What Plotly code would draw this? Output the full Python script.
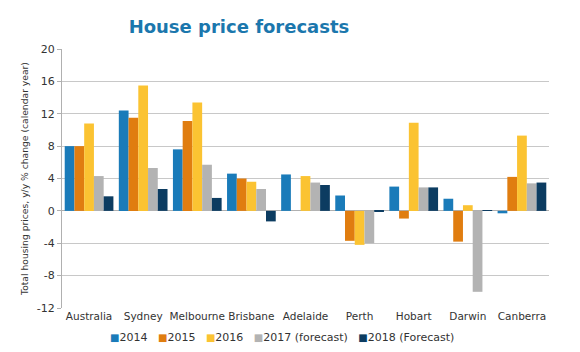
import plotly.graph_objects as go

cities = ["Australia", "Sydney", "Melbourne", "Brisbane", "Adelaide", "Perth", "Hobart", "Darwin", "Canberra"]
v2014 = [8.0, 12.4, 7.6, 4.6, 4.5, 1.9, 3.0, 1.5, -0.3]
v2015 = [8.0, 11.5, 11.1, 4.0, 0.0, -3.7, -0.95, -3.8, 4.2]
v2016 = [10.8, 15.5, 13.4, 3.6, 4.3, -4.2, 10.9, 0.7, 9.3]
v2017 = [4.3, 5.3, 5.7, 2.7, 3.5, -4.0, 2.9, -10.0, 3.4]
v2018 = [1.8, 2.7, 1.6, -1.3, 3.2, -0.1, 2.9, 0.1, 3.5]
series_names = ["2014", "2015", "2016", "2017 (forecast)", "2018 (Forecast)"]
colors = ["#1a7bb9", "#e07d10", "#fbc332", "#b3b3b3", "#0c3c61"]
y_ticks = [-12, -8, -4, 0, 4, 8, 12, 16, 20]
y_min, y_max = -12, 20

fig = go.Figure()
for name, vals, col in zip(series_names, [v2014, v2015, v2016, v2017, v2018], colors):
    fig.add_trace(go.Bar(x=cities, y=vals, name=name, showlegend=False,
                         marker=dict(color=col, line=dict(width=0))))

# legend drawn as text, one coloured square per series
legend_text = "&nbsp;&nbsp;&nbsp;".join(
    f"<span style='color:{c};font-size:10px'>■</span>{n}" for n, c in zip(series_names, colors)
)
fig.add_annotation(text=legend_text, xref="paper", yref="paper", x=0.452, y=-0.112,
                   xanchor="center", yanchor="middle", showarrow=False,
                   font=dict(size=11, color="#333333"))

font_family = "DejaVu Sans, Verdana, sans-serif"
fig.update_layout(
    width=580, height=352,
    margin=dict(l=62, r=31, t=49, b=44),
    paper_bgcolor="white", plot_bgcolor="white",
    barmode="group", bargap=0.1, bargroupgap=0,
    showlegend=False,
    font=dict(family=font_family, size=11, color="#333333"),
    title=dict(text="<b>House price forecasts</b>", x=0.412, xanchor="center", y=0.925, yanchor="middle",
               font=dict(family=font_family, size=18, color="#1b77ad")),
    xaxis=dict(showgrid=False, showline=False, ticks="", tickangle=0,
               type="category", categoryorder="array", categoryarray=cities,
               range=[-0.5, len(cities) - 0.5],
               tickfont=dict(size=10.5, color="#333333")),
    # category boundary tick marks sitting on the zero line
    xaxis2=dict(overlaying="x", anchor="free", position=(0 - y_min) / (y_max - y_min),
                type="category", categoryorder="array", categoryarray=cities,
                range=[-0.5, len(cities) - 0.5], tickson="boundaries",
                ticks="outside", ticklen=3, tickcolor="#b0b0b0",
                showticklabels=False, showgrid=False, showline=False, zeroline=False),
    yaxis=dict(range=[y_min, y_max], tickvals=y_ticks, ticktext=[str(t) for t in y_ticks],
               showgrid=True, gridcolor="#c8c8c8", gridwidth=1,
               zeroline=True, zerolinecolor="#b0b0b0", zerolinewidth=1,
               showline=True, linecolor="#b0b0b0", linewidth=1,
               ticks="outside", ticklen=4, tickcolor="#b0b0b0",
               tickfont=dict(size=11, color="#333333"),
               title=dict(text="Total housing prices, y/y % change (calendar year)",
                          font=dict(size=9.2, color="#333333"), standoff=6)),
)
fig.write_html("out.html")
